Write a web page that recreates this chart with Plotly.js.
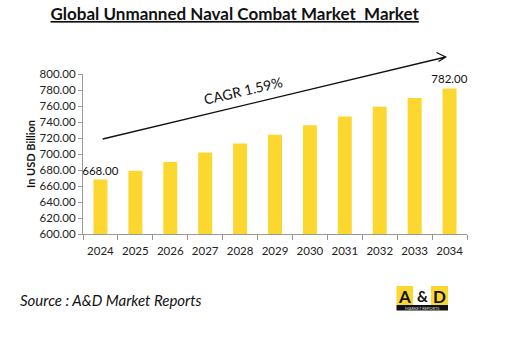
<!DOCTYPE html>
<html>
<head>
<meta charset="utf-8">
<script src="https://cdn.plot.ly/plotly-3.0.1.min.js"></script>
<style>html,body{margin:0;padding:0;background:#fff;}#chart{width:530px;height:349px;}</style>
</head>
<body>
<div id="chart"></div>
<script>
const years = ['2024','2025','2026','2027','2028','2029','2030','2031','2032','2033','2034'];
const marketValues = [668, 679, 690, 702, 713, 724, 736, 747, 759, 770, 782];
const labelledIndex = [0, 10];
const titleText = 'Global Unmanned Naval Combat Market  Market';
const yTitle = 'In USD Billion';
const cagrText = 'CAGR 1.59%';
const sourceText = 'Source : A&D Market Reports';

const W = 530, H = 349, L = 83, R = 63, T = 74, B = 115;
const PW = W - L - R, PH = H - T - B;
const px = x => (x - L) / PW;
const py = y => (H - B - y) / PH;

const barText = marketValues.map((v, i) => labelledIndex.includes(i) ? v.toFixed(2) : '');
const FONT = 'Lato, "Open Sans", sans-serif';

const trace = {
  type: 'bar', x: years, y: marketValues,
  marker: {color: '#FCD730'},
  text: barText, textposition: 'outside', cliponaxis: false, constraintext: 'none',
  textfont: {family: FONT, size: 11.5, color: '#111'},
  hoverinfo: 'skip'
};

// arrow geometry (pixels)
const sx = 102.7, sy = 139, tx = 445.7, ty = 57;
const arrowPath = `M ${px(sx)} ${py(sy)} L ${px(tx)} ${py(ty)} M ${px(436.5)} ${py(52.5)} L ${px(tx)} ${py(ty)} L ${px(438.5)} ${py(61.5)}`;

function note(text, x, y, size, extra) {
  return Object.assign({text: text, xref: 'paper', yref: 'paper', x: px(x), y: py(y), xanchor: 'center', yanchor: 'middle',
    showarrow: false, font: {family: FONT, size: size, color: '#111'}}, extra || {});
}

const layout = {
  width: W, height: H,
  margin: {l: L, r: R, t: T, b: B},
  paper_bgcolor: '#fff', plot_bgcolor: '#fff',
  bargap: 0.6,
  showlegend: false,
  font: {family: FONT, color: '#222'},
  title: {text: '<b>' + titleText + '</b>', x: 234.7 / W, xanchor: 'center', y: 1 - 14 / H, yanchor: 'middle',
          font: {family: FONT, size: 17, color: '#111', lineposition: 'under'}},
  xaxis: {type: 'category', showline: true, linecolor: '#999', linewidth: 1, tickangle: 0,
          ticks: 'outside', tickson: 'boundaries', ticklen: 5, tickcolor: '#999', ticklabelstandoff: 6,
          tickfont: {family: FONT, size: 11.5, color: '#222'}, showgrid: false, fixedrange: true},
  yaxis: {range: [600, 800], dtick: 20, tickformat: '.2f', showline: true, linecolor: '#999', linewidth: 1,
          ticks: 'outside', ticklen: 4, tickcolor: '#999', showgrid: false, zeroline: false,
          tickfont: {family: FONT, size: 11.5, color: '#222'},
          title: {text: '<b>' + yTitle + '</b>', font: {family: FONT, size: 11, color: '#111'}, standoff: 1}},
  shapes: [
    {type: 'path', xref: 'paper', yref: 'paper', path: arrowPath, line: {color: '#111', width: 1.3}},
    {type: 'rect', xref: 'paper', yref: 'paper', x0: px(396.5), x1: px(448), y0: py(305), y1: py(286), fillcolor: '#FCD730', line: {width: 0}},
    {type: 'rect', xref: 'paper', yref: 'paper', x0: px(413), x1: px(431), y0: py(305), y1: py(286), fillcolor: '#ffffff', line: {width: 0}},
    {type: 'rect', xref: 'paper', yref: 'paper', x0: px(396.5), x1: px(448), y0: py(310.5), y1: py(305), fillcolor: '#111', line: {width: 0}}
  ],
  annotations: [
    note(cagrText, 243, 90, 14, {textangle: -13}),
    note('<i>' + sourceText + '</i>', 18, 300, 15, {xanchor: 'left'}),
    note('<b>A</b>', 404.5, 296, 17),
    note('<b>&</b>', 422, 296, 15),
    note('<b>D</b>', 439.5, 296, 17),
    note('MARKET REPORTS', 422, 308, 4, {font: {family: FONT, size: 4, color: '#ddd'}})
  ]
};

Plotly.newPlot('chart', [trace], layout, {displayModeBar: false, staticPlot: true});
</script>
</body>
</html>
